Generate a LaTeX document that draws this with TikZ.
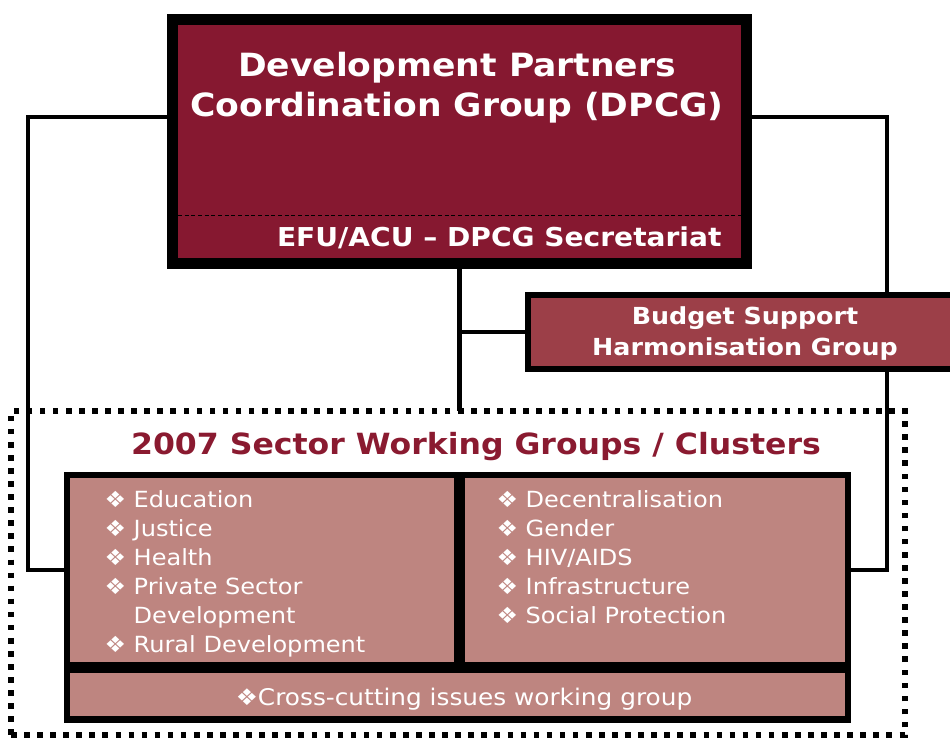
\documentclass[tikz,border=0pt]{standalone}
\usepackage{fontspec}
\setmainfont{DejaVu Sans}
\newfontfamily\wideface[FakeStretch=1.08]{DejaVu Sans}
\usetikzlibrary{backgrounds}

\definecolor{dpcgred}{RGB}{134,24,48}
\definecolor{bshgred}{RGB}{156,63,72}
\definecolor{swgpink}{RGB}{190,133,128}
\definecolor{swgtitle}{RGB}{138,26,48}

\tikzset{every picture/.style={line width=0.75pt}}
\tikzset{
  conn/.style={line width=3.2pt},
  box/.style={inner sep=0pt, outer sep=0pt},
  whitetext/.style={text=white, inner sep=0pt, font=\wideface},
}

\begin{document}
\begin{tikzpicture}[x=0.75pt,y=0.75pt,yscale=-1,xscale=1]
\useasboundingbox (0,0) rectangle (950,738);

%DPCG box
\node [box, draw=black, line width=8.25pt, fill=dpcgred, minimum width=430.5pt, minimum height=183pt] (dpcg) at (459.5,141.5) {};
\coordinate (splitl) at (178,216);
\coordinate (splitr) at (741,216);
\draw [dash pattern=on 3pt off 2pt] (splitl) -- (splitr);

%Budget support box
\node [box, draw=black, line width=4.5pt, fill=bshgred, minimum width=346.5pt, minimum height=55.5pt] (bshg) at (759,332) {};

%Dotted frame
\node [box, draw=black, line width=4.5pt, dash pattern=on 4.2pt off 5.6pt, minimum width=670.5pt, minimum height=243pt] (zone) at (458,573) {};

%Clusters
\node [box, fill=black, minimum width=590.25pt, minimum height=188.25pt] (swg) at (457.5,597.5) {};
\node [box, fill=swgpink, minimum width=288pt, minimum height=138pt] (lcol) at (262,570) {};
\node [box, fill=swgpink, minimum width=285pt, minimum height=138pt] (rcol) at (655,570) {};
\node [box, fill=swgpink, minimum width=581.25pt, minimum height=32.25pt] (xcut) at (457.5,694.5) {};

%Connectors
\coordinate (lbend) at (28,117);
\coordinate (lfoot) at (28,570);
\coordinate (rbend) at (887,117);
\coordinate (rfoot) at (887,570);
\begin{scope}[on background layer]
\draw [conn] (dpcg.west |- lbend) -- (lbend) -- (lfoot) -- (lfoot -| swg.west);
\draw [conn] (dpcg.east |- rbend) -- (rbend) -- (rfoot) -- (rfoot -| swg.east);
\draw [conn] (dpcg.south) -- (dpcg.south |- zone.north);
\draw [conn] (dpcg.south |- bshg.west) -- (bshg.west);
\end{scope}

% Text Node
\node [whitetext, align=center, anchor=base, font=\wideface\bfseries\fontsize{24pt}{30pt}\selectfont] (dpcgname) at (457,117) {Development Partners\\Coordination Group (DPCG)};
% Text Node
\node [whitetext, anchor=base east, font=\wideface\bfseries\fontsize{19.5pt}{22pt}\selectfont] (secr) at (722,247) {EFU/ACU – DPCG Secretariat};
% Text Node
\node [whitetext, align=center, anchor=base, font=\wideface\bfseries\fontsize{17.6pt}{23.25pt}\selectfont] (bshgname) at (745,355) {Budget Support\\Harmonisation Group};
% Text Node
\node [inner sep=0pt, anchor=base, text=swgtitle, font=\wideface\bfseries\fontsize{21.9pt}{26pt}\selectfont] (swgname) at (476,454) {2007 Sector Working Groups / Clusters};
% Text Node
\node [whitetext, align=left, anchor=base west, font=\wideface\fontsize{16.7pt}{21.7pt}\selectfont] (ltext) at (104,652) {❖ Education\\❖ Justice\\❖ Health\\❖ Private Sector\\\phantom{❖ }Development\\❖ Rural Development};
% Text Node
\node [whitetext, align=left, anchor=base west, font=\wideface\fontsize{16.7pt}{21.7pt}\selectfont] (rtext) at (496,623) {❖ Decentralisation\\❖ Gender\\❖ HIV/AIDS\\❖ Infrastructure\\❖ Social Protection};
% Text Node
\node [whitetext, anchor=base, font=\wideface\fontsize{17.2pt}{21.7pt}\selectfont] (xtext) at (464,705) {❖Cross-cutting issues working group};

\end{tikzpicture}
\end{document}
